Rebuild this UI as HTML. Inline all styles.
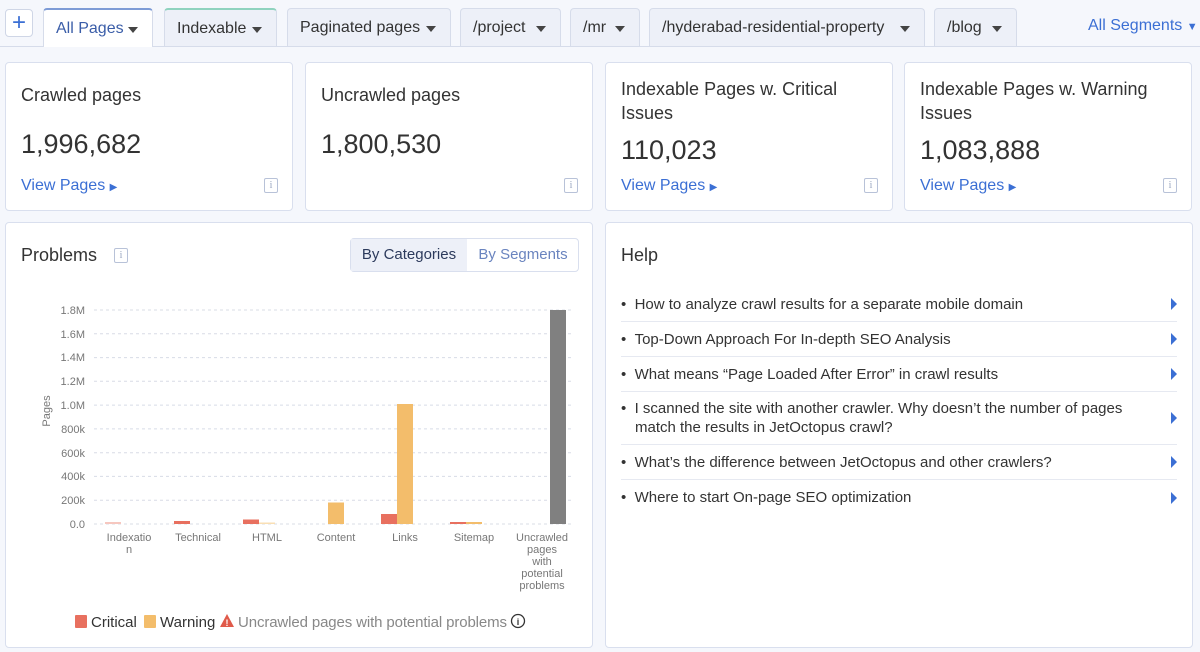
<!DOCTYPE html>
<html><head><meta charset="utf-8"><style>
*{box-sizing:border-box;margin:0;padding:0}
body{width:1200px;height:652px;background:#f5f7fc;font-family:"Liberation Sans",sans-serif;color:#333;position:relative;overflow:hidden}
.a{position:absolute}
.tab{position:absolute;top:8px;height:38px;background:#edf0f8;border:1px solid #d6dcea;border-bottom:none;border-radius:4px 4px 0 0;font-size:16px;line-height:38px;padding-left:12px;color:#333}
.tab:after{content:"";position:absolute;right:14px;top:17px;border:5px solid transparent;border-top:6px solid #444;border-bottom:none}
.card{position:absolute;background:#fff;border:1px solid #d9dfee;border-radius:4px}
.t{font-size:18px;color:#333;line-height:24px}
.n{font-size:27px;color:#333}
.vp{font-size:16px;color:#3b6fd4}
.info{position:absolute;width:14px;height:15px;border:1px solid #b8c2d8;border-radius:2px;font-size:10px;color:#9aa6c0;text-align:center;line-height:13px;font-family:"Liberation Serif",serif}
.hl{position:absolute;left:15px;right:15px;font-size:15px;color:#333;border-bottom:1px solid #e6e9f1}
.hl b{position:absolute;right:0;top:50%;margin-top:-6px;border:6px solid transparent;border-left:6px solid #3b6fd4;border-right:none;width:0;height:0}
</style></head><body>
<div class="a" style="left:0;top:46px;width:1200px;height:1px;background:#d6dcea"></div>
<div class="a" style="left:5px;top:9px;width:28px;height:28px;border:1px solid #cfd6e6;border-radius:4px;background:#fff;color:#3b6fd4;font-size:24px;text-align:center;line-height:25px">+</div>
<div class="tab" style="left:43px;width:110px;background:#fff;border-top:2px solid #7d9bd6;height:39px;color:#3a5da8">All Pages</div>
<div class="tab" style="left:164px;width:113px;border-top:2px solid #8fd3bf">Indexable</div>
<div class="tab" style="left:287px;width:164px">Paginated pages</div>
<div class="tab" style="left:460px;width:101px">/project</div>
<div class="tab" style="left:570px;width:70px">/mr</div>
<div class="tab" style="left:649px;width:276px">/hyderabad-residential-property</div>
<div class="tab" style="left:934px;width:83px">/blog</div>
<div class="a" style="left:1088px;top:17px;font-size:16px;color:#3b6fd4">All Segments <span style="font-size:11px">▼</span></div>

<div class="card" style="left:5px;top:62px;width:288px;height:149px">
<div class="a t" style="left:15px;top:20px">Crawled pages</div>
<div class="a n" style="left:15px;top:66px">1,996,682</div>
<div class="a vp" style="left:15px;top:114px">View Pages <span style="font-size:10px">▶</span></div>
<div class="info" style="left:258px;top:115px">i</div></div>
<div class="card" style="left:305px;top:62px;width:288px;height:149px">
<div class="a t" style="left:15px;top:20px">Uncrawled pages</div>
<div class="a n" style="left:15px;top:66px">1,800,530</div>
<div class="info" style="left:258px;top:115px">i</div></div>
<div class="card" style="left:605px;top:62px;width:288px;height:149px">
<div class="a t" style="left:15px;top:14px;width:250px">Indexable Pages w. Critical Issues</div>
<div class="a n" style="left:15px;top:72px">110,023</div>
<div class="a vp" style="left:15px;top:114px">View Pages <span style="font-size:10px">▶</span></div>
<div class="info" style="left:258px;top:115px">i</div></div>
<div class="card" style="left:904px;top:62px;width:288px;height:149px">
<div class="a t" style="left:15px;top:14px;width:250px">Indexable Pages w. Warning Issues</div>
<div class="a n" style="left:15px;top:72px">1,083,888</div>
<div class="a vp" style="left:15px;top:114px">View Pages <span style="font-size:10px">▶</span></div>
<div class="info" style="left:258px;top:115px">i</div></div>

<div class="card" style="left:5px;top:222px;width:588px;height:426px">
<div class="a t" style="left:15px;top:20px">Problems</div>
<div class="info" style="left:108px;top:25px">i</div>
<div class="a" style="left:344px;top:15px;width:229px;height:34px;border:1px solid #d9dfee;border-radius:4px;font-size:15px;line-height:32px">
<span class="a" style="left:0;top:0;width:116px;height:32px;background:#edf0f8;text-align:center;color:#2c3a5c">By Categories</span>
<span class="a" style="left:116px;top:0;width:112px;height:32px;text-align:center;color:#6a84bf">By Segments</span></div>
</div>
<svg class="a" style="left:0;top:0" width="600" height="652" font-family="Liberation Sans, sans-serif">
<g stroke="#d8dce6" stroke-dasharray="3,3" stroke-width="1">
<line x1="94" x2="574" y1="310" y2="310"/><line x1="94" x2="574" y1="333.8" y2="333.8"/><line x1="94" x2="574" y1="357.6" y2="357.6"/><line x1="94" x2="574" y1="381.3" y2="381.3"/><line x1="94" x2="574" y1="405.1" y2="405.1"/><line x1="94" x2="574" y1="428.9" y2="428.9"/><line x1="94" x2="574" y1="452.7" y2="452.7"/><line x1="94" x2="574" y1="476.4" y2="476.4"/><line x1="94" x2="574" y1="500.2" y2="500.2"/><line x1="94" x2="574" y1="524" y2="524"/></g>
<g font-size="11" fill="#777" text-anchor="end">
<text x="85" y="314">1.8M</text><text x="85" y="338">1.6M</text><text x="85" y="361">1.4M</text><text x="85" y="385">1.2M</text><text x="85" y="409">1.0M</text><text x="85" y="433">800k</text><text x="85" y="457">600k</text><text x="85" y="480">400k</text><text x="85" y="504">200k</text><text x="85" y="528">0.0</text></g>
<text transform="translate(50,411) rotate(-90)" font-size="11" fill="#777" text-anchor="middle">Pages</text>
<rect x="105" y="522" width="16" height="2" fill="#f6c7bf"/>
<rect x="174" y="521" width="16" height="3" fill="#e8705f"/>
<rect x="243" y="519.5" width="16" height="4.5" fill="#e8705f"/><rect x="259" y="522.5" width="16" height="1.5" fill="#f9dfb4"/>
<rect x="328" y="502.5" width="16" height="21.5" fill="#f3bd6b"/>
<rect x="381" y="514" width="16" height="10" fill="#e8705f"/><rect x="397" y="404" width="16" height="120" fill="#f3bd6b"/>
<rect x="450" y="522" width="16" height="2" fill="#e8705f"/><rect x="466" y="522" width="16" height="2" fill="#f3bd6b"/>
<rect x="550" y="310" width="16" height="214" fill="#808080"/>
<g font-size="11" fill="#777" text-anchor="middle">
<text x="129" y="541">Indexatio</text><text x="129" y="553">n</text>
<text x="198" y="541">Technical</text><text x="267" y="541">HTML</text><text x="336" y="541">Content</text><text x="405" y="541">Links</text><text x="474" y="541">Sitemap</text>
<text x="542" y="541">Uncrawled</text><text x="542" y="553">pages</text><text x="542" y="565">with</text><text x="542" y="577">potential</text><text x="542" y="589">problems</text></g>
<rect x="75" y="615" width="12" height="13" rx="1" fill="#e8705f"/>
<text x="91" y="627" font-size="15" fill="#333">Critical</text>
<rect x="144" y="615" width="12" height="13" rx="1" fill="#f3bd6b"/>
<text x="160" y="627" font-size="15" fill="#333">Warning</text>
<path d="M227 614 L234 627 L220 627 Z" fill="#e05a4a"/><text x="227" y="626" font-size="9" fill="#fff" text-anchor="middle" font-weight="bold">!</text>
<text x="238" y="627" font-size="15" fill="#888" textLength="269">Uncrawled pages with potential problems</text>
<circle cx="518" cy="621" r="6.5" fill="none" stroke="#333" stroke-width="1.3"/><text x="518" y="625" font-size="9" text-anchor="middle" fill="#333" font-weight="bold">i</text>
</svg>

<div class="card" style="left:605px;top:222px;width:588px;height:426px">
<div class="a t" style="left:15px;top:20px">Help</div>
<div class="hl" style="top:64px;height:35px;line-height:35px">•&nbsp;&nbsp;How to analyze crawl results for a separate mobile domain<b></b></div>
<div class="hl" style="top:99px;height:35px;line-height:35px">•&nbsp;&nbsp;Top-Down Approach For In-depth SEO Analysis<b></b></div>
<div class="hl" style="top:134px;height:35px;line-height:35px">•&nbsp;&nbsp;What means “Page Loaded After Error” in crawl results<b></b></div>
<div class="hl" style="top:169px;height:53px;line-height:19px;padding-top:7px"><div style="padding-left:14px;text-indent:-14px;width:545px">•&nbsp;&nbsp;I scanned the site with another crawler. Why doesn’t the number of pages match the results in JetOctopus crawl?</div><b></b></div>
<div class="hl" style="top:222px;height:35px;line-height:35px">•&nbsp;&nbsp;What’s the difference between JetOctopus and other crawlers?<b></b></div>
<div class="hl" style="top:257px;height:35px;line-height:35px;border:none">•&nbsp;&nbsp;Where to start On-page SEO optimization<b></b></div>
</div>
</body></html>
